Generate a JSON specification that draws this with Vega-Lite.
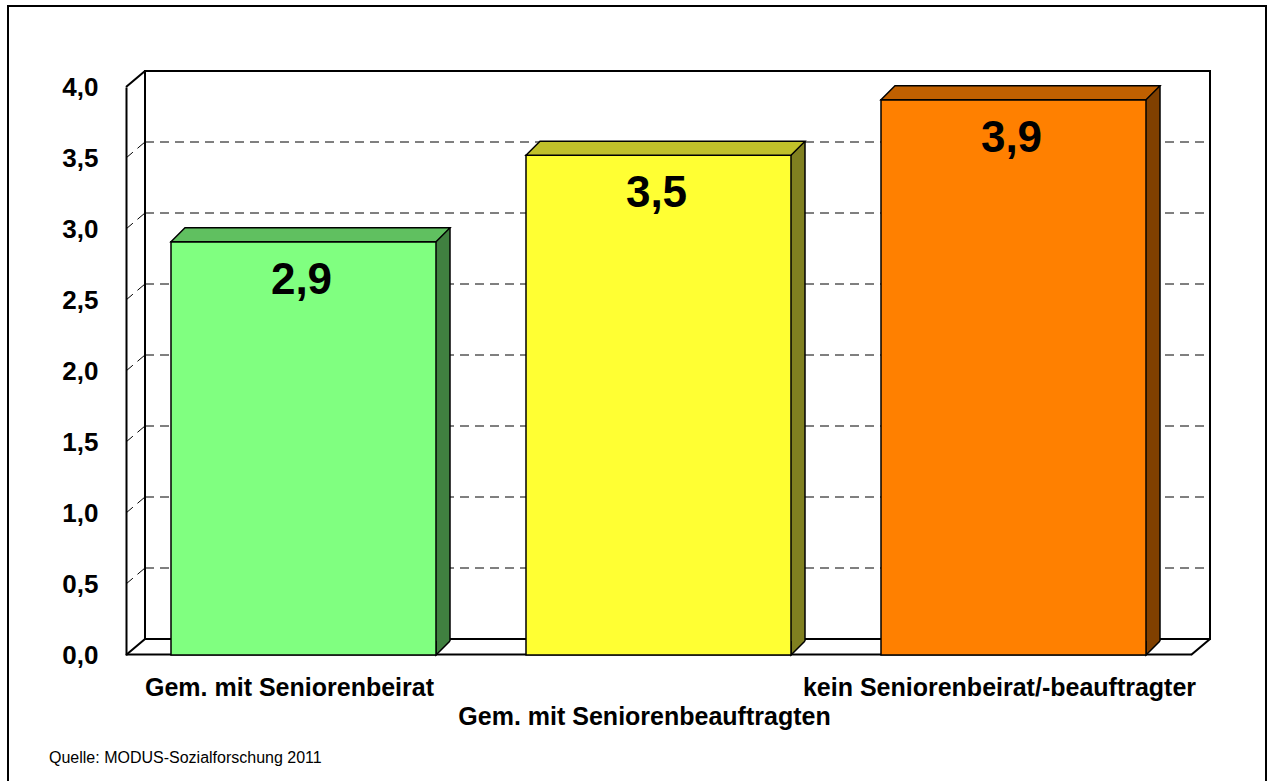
{
  "$schema": "https://vega.github.io/schema/vega-lite/v6.json",
  "width": 1258,
  "height": 776,
  "autosize": {"type": "none"},
  "padding": {"left": 8, "top": 6, "right": 1, "bottom": -1},
  "title": {"text": "Quelle: MODUS-Sozialforschung 2011", "orient": "bottom", "anchor": "start", "frame": "group", "offset": -19, "dx": 41, "baseline": "alphabetic", "font": "Liberation Sans", "fontSize": 16, "fontWeight": "normal", "color": "black"},
  "datasets": {
    "werte": [
      {"kategorie": "Gem. mit Seniorenbeirat", "wert": 2.91},
      {"kategorie": "Gem. mit Seniorenbeauftragten", "wert": 3.52},
      {"kategorie": "kein Seniorenbeirat/-beauftragter", "wert": 3.91}
    ],
    "raster": [{"stufe": 0.5}, {"stufe": 1.0}, {"stufe": 1.5}, {"stufe": 2.0}, {"stufe": 2.5}, {"stufe": 3.0}, {"stufe": 3.5}]
  },
  "resolve": {"scale": {"x": "independent"}, "axis": {"x": "independent"}},
  "layer": [
    {
      "data": {"values": [{}]},
      "layer": [
        {
          "mark": {"type": "rect", "fill": "white", "stroke": "black", "strokeWidth": 2, "xOffset": 19, "x2Offset": 19, "yOffset": -16, "y2Offset": -16},
          "encoding": {
            "x": {"datum": 0, "type": "quantitative", "scale": {"domain": [0, 3], "range": [118, 1183]}, "axis": null},
            "x2": {"datum": 3},
            "y": {"datum": 4, "type": "quantitative", "scale": {"domain": [0, 4], "range": [649, 81], "nice": false}, "axis": {"title": null, "orient": "left", "offset": -118, "values": [0, 0.5, 1, 1.5, 2, 2.5, 3, 3.5, 4], "format": ".1f", "grid": false, "ticks": false, "tickSize": 0, "domainColor": "black", "domainWidth": 2, "labelFont": "Liberation Sans", "labelFontSize": 26, "labelFontWeight": "bold", "labelColor": "black", "labelPadding": 28}},
            "y2": {"datum": 0}
          }
        },
        {
          "data": {"name": "raster"},
          "mark": {"type": "rule", "color": "black", "strokeWidth": 1, "strokeDash": [9, 6], "xOffset": 19, "x2Offset": 19, "yOffset": -16},
          "encoding": {
            "x": {"datum": 0, "type": "quantitative", "scale": {"domain": [0, 3], "range": [118, 1183]}, "axis": null},
            "x2": {"datum": 3},
            "y": {"field": "stufe", "type": "quantitative", "scale": {"domain": [0, 4], "range": [649, 81], "nice": false}, "axis": {"title": null, "orient": "left", "offset": -118, "values": [0, 0.5, 1, 1.5, 2, 2.5, 3, 3.5, 4], "format": ".1f", "grid": false, "ticks": false, "tickSize": 0, "domainColor": "black", "domainWidth": 2, "labelFont": "Liberation Sans", "labelFontSize": 26, "labelFontWeight": "bold", "labelColor": "black", "labelPadding": 28}}
          }
        },
        {
          "data": {"name": "raster"},
          "mark": {"type": "rule", "color": "black", "strokeWidth": 1, "strokeDash": [9, 6], "x2Offset": 19, "y2Offset": -16},
          "encoding": {
            "x": {"datum": 0, "type": "quantitative", "scale": {"domain": [0, 3], "range": [118, 1183]}, "axis": null},
            "x2": {"datum": 0},
            "y": {"field": "stufe", "type": "quantitative", "scale": {"domain": [0, 4], "range": [649, 81], "nice": false}, "axis": {"title": null, "orient": "left", "offset": -118, "values": [0, 0.5, 1, 1.5, 2, 2.5, 3, 3.5, 4], "format": ".1f", "grid": false, "ticks": false, "tickSize": 0, "domainColor": "black", "domainWidth": 2, "labelFont": "Liberation Sans", "labelFontSize": 26, "labelFontWeight": "bold", "labelColor": "black", "labelPadding": 28}},
            "y2": {"field": "stufe"}
          }
        },
        {
          "mark": {"type": "rule", "color": "black", "strokeWidth": 2, "x2Offset": 19, "y2Offset": -16},
          "encoding": {
            "x": {"datum": 0, "type": "quantitative", "scale": {"domain": [0, 3], "range": [118, 1183]}, "axis": null},
            "x2": {"datum": 0},
            "y": {"datum": 4, "type": "quantitative", "scale": {"domain": [0, 4], "range": [649, 81], "nice": false}, "axis": {"title": null, "orient": "left", "offset": -118, "values": [0, 0.5, 1, 1.5, 2, 2.5, 3, 3.5, 4], "format": ".1f", "grid": false, "ticks": false, "tickSize": 0, "domainColor": "black", "domainWidth": 2, "labelFont": "Liberation Sans", "labelFontSize": 26, "labelFontWeight": "bold", "labelColor": "black", "labelPadding": 28}},
            "y2": {"datum": 4}
          }
        },
        {
          "mark": {"type": "rule", "color": "black", "strokeWidth": 2, "x2Offset": 19, "y2Offset": -16},
          "encoding": {
            "x": {"datum": 0, "type": "quantitative", "scale": {"domain": [0, 3], "range": [118, 1183]}, "axis": null},
            "x2": {"datum": 0},
            "y": {"datum": 0, "type": "quantitative", "scale": {"domain": [0, 4], "range": [649, 81], "nice": false}, "axis": {"title": null, "orient": "left", "offset": -118, "values": [0, 0.5, 1, 1.5, 2, 2.5, 3, 3.5, 4], "format": ".1f", "grid": false, "ticks": false, "tickSize": 0, "domainColor": "black", "domainWidth": 2, "labelFont": "Liberation Sans", "labelFontSize": 26, "labelFontWeight": "bold", "labelColor": "black", "labelPadding": 28}},
            "y2": {"datum": 0}
          }
        },
        {
          "mark": {"type": "rule", "color": "black", "strokeWidth": 2, "x2Offset": 19, "y2Offset": -16},
          "encoding": {
            "x": {"datum": 3, "type": "quantitative", "scale": {"domain": [0, 3], "range": [118, 1183]}, "axis": null},
            "x2": {"datum": 3},
            "y": {"datum": 0, "type": "quantitative", "scale": {"domain": [0, 4], "range": [649, 81], "nice": false}, "axis": {"title": null, "orient": "left", "offset": -118, "values": [0, 0.5, 1, 1.5, 2, 2.5, 3, 3.5, 4], "format": ".1f", "grid": false, "ticks": false, "tickSize": 0, "domainColor": "black", "domainWidth": 2, "labelFont": "Liberation Sans", "labelFontSize": 26, "labelFontWeight": "bold", "labelColor": "black", "labelPadding": 28}},
            "y2": {"datum": 0}
          }
        }
      ]
    },
    {
      "data": {"name": "werte"},
      "encoding": {
        "x": {
          "field": "kategorie", "type": "nominal", "sort": null,
          "scale": {"range": [118, 1183], "paddingInner": 0, "paddingOuter": 0},
          "axis": {"title": null, "orient": "bottom", "offset": -128, "grid": false, "ticks": false, "tickSize": 0, "domainColor": "black", "domainWidth": 2, "labelFont": "Liberation Sans", "labelFontSize": 25, "labelFontWeight": "bold", "labelColor": "black", "labelPadding": 21, "labelOffset": -14, "labelAngle": 0, "labelLimit": 0, "labelOverlap": false, "labelLineHeight": 29, "labelExpr": "datum.value == 'Gem. mit Seniorenbeauftragten' ? ['', datum.label] : datum.label"}
        },
        "y": {
          "field": "wert", "type": "quantitative",
          "scale": {"domain": [0, 4], "range": [649, 81], "nice": false},
          "axis": {"title": null, "orient": "left", "offset": -118, "values": [0, 0.5, 1, 1.5, 2, 2.5, 3, 3.5, 4], "format": ".1f", "grid": false, "ticks": false, "tickSize": 0, "domainColor": "black", "domainWidth": 2, "labelFont": "Liberation Sans", "labelFontSize": 26, "labelFontWeight": "bold", "labelColor": "black", "labelPadding": 28}
        }
      },
      "resolve": {"scale": {"color": "independent"}},
      "layer": [
        {
          "mark": {"type": "bar", "width": 14, "xOffset": 139.5, "yOffset": -14, "y2Offset": -14},
          "encoding": {
            "y2": {"datum": 0},
            "color": {"field": "kategorie", "type": "nominal", "legend": null, "scale": {"domain": ["Gem. mit Seniorenbeirat", "Gem. mit Seniorenbeauftragten", "kein Seniorenbeirat/-beauftragter"], "range": ["#408040", "#808020", "#804000"]}}
          }
        },
        {
          "mark": {"type": "point", "shape": "M132.5,-14L132.5,0L146.5,-14", "size": 4, "filled": true, "opacity": 1, "stroke": "black", "strokeWidth": 1.5},
          "encoding": {
            "y": {"datum": 0, "type": "quantitative", "scale": {"domain": [0, 4], "range": [649, 81], "nice": false}, "axis": {"title": null, "orient": "left", "offset": -118, "values": [0, 0.5, 1, 1.5, 2, 2.5, 3, 3.5, 4], "format": ".1f", "grid": false, "ticks": false, "tickSize": 0, "domainColor": "black", "domainWidth": 2, "labelFont": "Liberation Sans", "labelFontSize": 26, "labelFontWeight": "bold", "labelColor": "black", "labelPadding": 28}},
            "color": {"field": "kategorie", "type": "nominal", "legend": null, "scale": {"domain": ["Gem. mit Seniorenbeirat", "Gem. mit Seniorenbeauftragten", "kein Seniorenbeirat/-beauftragter"], "range": ["#408040", "#808020", "#804000"]}}
          }
        },
        {
          "mark": {"type": "rule", "color": "black", "strokeWidth": 1.5, "xOffset": 146.5, "yOffset": -14, "y2Offset": -14},
          "encoding": {"y2": {"datum": 0}}
        },
        {
          "mark": {"type": "bar", "width": {"band": 0.7465}, "stroke": "black", "strokeWidth": 1.5},
          "encoding": {
            "color": {"field": "kategorie", "type": "nominal", "legend": null, "scale": {"domain": ["Gem. mit Seniorenbeirat", "Gem. mit Seniorenbeauftragten", "kein Seniorenbeirat/-beauftragter"], "range": ["#80FF80", "#FFFF33", "#FF8000"]}}
          }
        },
        {
          "mark": {"type": "point", "shape": "M-132.5,0L132.5,0L146.5,-14L-118.5,-14Z", "size": 4, "filled": true, "opacity": 1, "stroke": "black", "strokeWidth": 1.5},
          "encoding": {
            "color": {"field": "kategorie", "type": "nominal", "legend": null, "scale": {"domain": ["Gem. mit Seniorenbeirat", "Gem. mit Seniorenbeauftragten", "kein Seniorenbeirat/-beauftragter"], "range": ["#60C060", "#C0C02A", "#C06000"]}}
          }
        },
        {
          "mark": {"type": "text", "font": "Liberation Sans", "fontSize": 44, "fontWeight": "bold", "baseline": "alphabetic", "align": "center", "dy": 52, "dx": -2, "color": "black"},
          "encoding": {
            "text": {"field": "wert", "type": "quantitative", "format": ".1f"}
          }
        }
      ]
    }
  ],
  "config": {
    "locale": {"number": {"decimal": ",", "thousands": ".", "grouping": [3], "currency": ["", " €"]}},
    "view": {"stroke": "black", "strokeWidth": 2},
    "font": "Liberation Sans"
  }
}
